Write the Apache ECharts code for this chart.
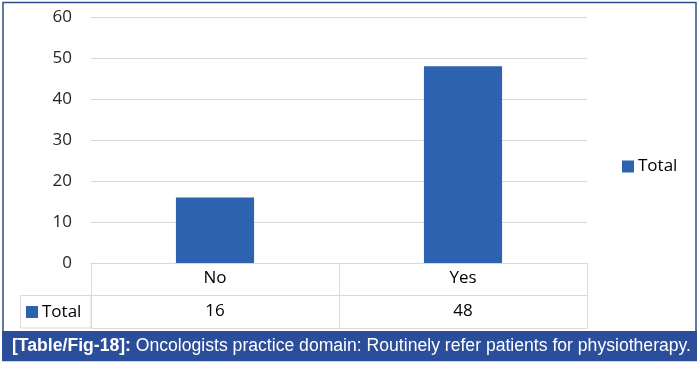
<!DOCTYPE html>
<html><head><meta charset="utf-8">
<script src="https://cdn.jsdelivr.net/npm/echarts@6/dist/echarts.min.js"></script>
<style>html,body{margin:0;padding:0;background:#fff}#c{width:700px;height:369px}</style>
</head><body><div id="c"></div>
<script>
var categories = ['No', 'Yes'];
var totals = [16, 48];
var seriesName = 'Total';
var yTicks = [0, 10, 20, 30, 40, 50, 60];
var captionBold = '[Table/Fig-18]:';
var captionText = ' Oncologists practice domain: Routinely refer patients for physiotherapy.';

var G = {left: 91, right: 113, top: 17, bottom: 106};
var W = 700, H = 369;
var gridBottomY = H - G.bottom;
var rowH = 32.5;
var font = '"Open Sans", sans-serif';
var lineC = '#d9d9d9';
var barC = '#2c62b0';

var chart = echarts.init(document.getElementById('c'), null, {renderer: 'canvas'});
chart.setOption({
  animation: false,
  backgroundColor: '#fff',
  grid: {left: G.left, right: G.right, top: G.top, bottom: G.bottom, containLabel: false},
  legend: [
    {data: [seriesName], left: 617, top: 153, icon: 'rect', itemWidth: 12, itemHeight: 12, itemGap: 4,
     textStyle: {fontFamily: font, fontSize: 17, color: '#000', padding: [0, 0, 0, -1]}},
    {data: [seriesName], left: 21, top: gridBottomY + rowH + 3, icon: 'rect', itemWidth: 12, itemHeight: 12,
     textStyle: {fontFamily: font, fontSize: 17, color: '#000', padding: [0, 0, 0, -1]}}
  ],
  xAxis: [
    {type: 'category', data: categories, position: 'bottom', offset: 0,
     axisLine: {show: true, lineStyle: {color: lineC, width: 1}},
     axisTick: {show: true, length: rowH * 2, lineStyle: {color: lineC}},
     axisLabel: {margin: 7, fontFamily: font, fontSize: 17, color: '#000'}},
    {type: 'category', data: totals.map(String), position: 'bottom', offset: rowH,
     axisLine: {show: true, lineStyle: {color: lineC, width: 1}},
     axisTick: {show: false},
     axisLabel: {margin: 7, fontFamily: font, fontSize: 17, color: '#000'}},
    {type: 'category', data: categories, position: 'bottom', offset: rowH * 2,
     axisLine: {show: true, lineStyle: {color: lineC, width: 1}},
     axisTick: {show: false}, axisLabel: {show: false}}
  ],
  yAxis: {type: 'value', min: yTicks[0], max: yTicks[yTicks.length - 1], interval: 10,
    axisLine: {show: false}, axisTick: {show: false},
    axisLabel: {margin: 19, fontFamily: font, fontSize: 17, color: '#262626'},
    splitLine: {lineStyle: {color: lineC, width: 1}}},
  series: [{name: seriesName, type: 'bar', data: totals, barWidth: '31.5%', xAxisIndex: 0,
    itemStyle: {color: barC}}],
  graphic: [
    {type: 'rect', shape: {x: 20.5, y: gridBottomY + rowH, width: G.left - 20.5, height: rowH},
     style: {fill: 'none', stroke: lineC, lineWidth: 1}, z: 1},
    {type: 'rect', shape: {x: 3, y: 2.5, width: 693, height: 358}, style: {fill: 'none', stroke: '#2e4d85', lineWidth: 1.5}, z: 10},
    {type: 'rect', shape: {x: 2, y: 331, width: 695, height: 30}, style: {fill: '#2b4e9b'}, z: 11},
    {type: 'text', left: 12, top: 337, z: 12,
     style: {rich: {b: {fontFamily: '"Liberation Sans", Arial, sans-serif', fontWeight: 'bold', fontSize: 17.6, fill: '#fff'},
                    n: {fontFamily: '"Liberation Sans", Arial, sans-serif', fontSize: 17.6, fill: '#fff'}},
             text: '{b|' + captionBold + '}{n|' + captionText + '}'}}
  ]
});
</script></body></html>
